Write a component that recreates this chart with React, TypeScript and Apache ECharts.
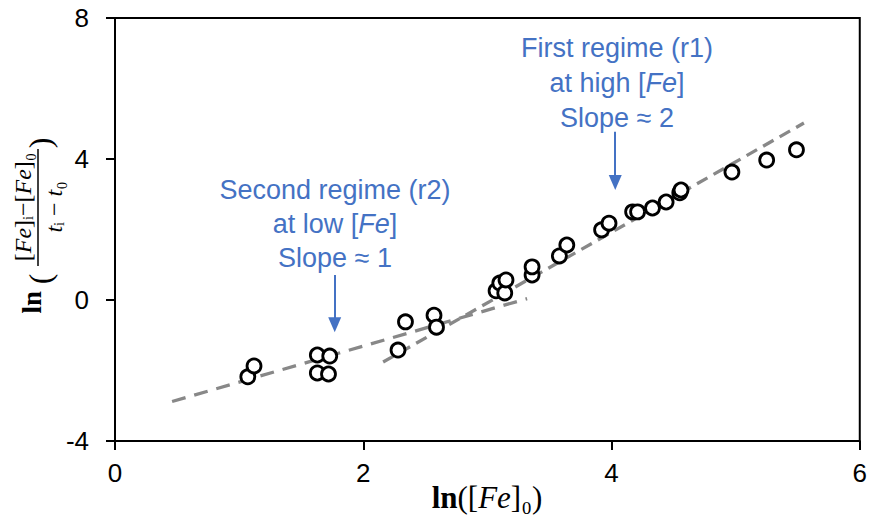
import React, { useEffect, useRef } from "react";
import * as echarts from "echarts";

// ---- data ----
const lnFe0 = [1.07, 1.12, 1.63, 1.73, 1.63, 1.72, 2.28, 2.34, 2.57, 2.59, 3.07, 3.1, 3.14, 3.15, 3.36, 3.36, 3.58, 3.64, 3.92, 3.98, 4.17, 4.21, 4.33, 4.44, 4.55, 4.56, 4.97, 5.25, 5.49];
const lnRate = [-2.18, -1.87, -1.56, -1.59, -2.07, -2.1, -1.42, -0.62, -0.43, -0.77, 0.26, 0.48, 0.2, 0.57, 0.71, 0.94, 1.25, 1.56, 1.99, 2.18, 2.5, 2.5, 2.61, 2.78, 3.04, 3.12, 3.63, 3.97, 4.26];

const fitR2X = [0.46, 3.32];
const fitR2Y = [-2.88, 0.04];
const fitR1X = [2.16, 5.55];
const fitR1Y = [-1.76, 5.02];

const arrowR1X = [4.03, 4.03];
const arrowR1Y = [4.77, 3.33];
const arrowR2X = [1.77, 1.77];
const arrowR2Y = [0.71, -0.7];

const xTicks = { min: 0, max: 6, interval: 2 };
const yTicks = { min: -4, max: 8, interval: 4 };

const annR1 = ["First regime (r1)", "at high [", "Fe", "]", "Slope ≈ 2"];
const annR2 = ["Second regime (r2)", "at low [", "Fe", "]", "Slope ≈ 1"];

const BLUE = "#4472C4";
const SANS = '"Liberation Sans", Arial, sans-serif';
const SERIF = '"Liberation Serif", "DejaVu Serif", serif';

function annotation(lines: string[], cx: number, y0: number, gap: number) {
  const base = { fill: BLUE, fontSize: 27, fontFamily: SANS };
  return [
    { type: "text", x: cx, y: y0, style: { ...base, text: lines[0], align: "center", verticalAlign: "middle" } },
    {
      type: "text",
      x: cx,
      y: y0 + gap,
      style: {
        ...base,
        text: `{n|${lines[1]}}{i|${lines[2]}}{n|${lines[3]}}`,
        align: "center",
        verticalAlign: "middle",
        rich: {
          n: { ...base },
          i: { ...base, fontStyle: "italic" },
        },
      },
    },
    { type: "text", x: cx, y: y0 + 2 * gap, style: { ...base, text: lines[4], align: "center", verticalAlign: "middle" } },
  ];
}

export default function App() {
  const ref = useRef<HTMLDivElement>(null);
  useEffect(() => {
    if (!ref.current) return;
    const chart = echarts.init(ref.current, null, { renderer: "svg" });
    const pts = lnFe0.map((x, i) => [x, lnRate[i]]);
    const serifN = { fontFamily: SERIF, fill: "#000" };
    const frac = { ...serifN, fontSize: 24 };
    chart.setOption({
      animation: false,
      backgroundColor: "#fff",
      grid: {
        left: 115,
        right: 9,
        top: 18,
        bottom: 74,
        show: true,
        borderColor: "#000",
        borderWidth: 2,
      },
      xAxis: {
        type: "value",
        min: xTicks.min,
        max: xTicks.max,
        interval: xTicks.interval,
        splitLine: { show: false },
        axisLine: { show: true, onZero: false, lineStyle: { color: "#000", width: 2 } },
        axisTick: { show: true, inside: false, length: 9, lineStyle: { color: "#000", width: 2 } },
        axisLabel: { color: "#000", fontSize: 26, fontFamily: SANS, margin: 19 },
      },
      yAxis: {
        type: "value",
        min: yTicks.min,
        max: yTicks.max,
        interval: yTicks.interval,
        splitLine: { show: false },
        axisLine: { show: true, onZero: false, lineStyle: { color: "#000", width: 2 } },
        axisTick: { show: true, inside: false, length: 9, lineStyle: { color: "#000", width: 2 } },
        axisLabel: { color: "#000", fontSize: 26, fontFamily: SANS, margin: 26 },
      },
      series: [
        {
          type: "line",
          data: fitR2X.map((x, i) => [x, fitR2Y[i]]),
          symbol: "none",
          silent: true,
          lineStyle: { color: "#888", width: 3.3, type: [14, 9] },
          z: 2,
        },
        {
          type: "line",
          data: fitR1X.map((x, i) => [x, fitR1Y[i]]),
          symbol: "none",
          silent: true,
          lineStyle: { color: "#888", width: 3.3, type: [12, 7] },
          z: 2,
        },
        {
          type: "scatter",
          data: pts,
          symbol: "circle",
          symbolSize: 14,
          itemStyle: { color: "#fff", borderColor: "#000", borderWidth: 2.8, opacity: 1 },
          z: 3,
          markLine: {
            silent: true,
            symbol: ["none", "triangle"],
            symbolSize: [13, 15],
            symbolRotate: 180,
            label: { show: false },
            lineStyle: { color: BLUE, width: 2, type: "solid" },
            itemStyle: { color: BLUE },
            data: [
              [{ coord: [arrowR1X[0], arrowR1Y[0]] }, { coord: [arrowR1X[1], arrowR1Y[1]] }],
              [{ coord: [arrowR2X[0], arrowR2Y[0]] }, { coord: [arrowR2X[1], arrowR2Y[1]] }],
            ],
          },
        },
      ],
      graphic: [
        ...annotation(annR1, 617, 48, 35),
        ...annotation(annR2, 335, 190, 34),
        {
          type: "text",
          x: 487,
          y: 497,
          style: {
            ...serifN,
            fontSize: 31,
            text: "{b|ln}{n|([}{i|Fe}{n|]₀)}",
            align: "center",
            verticalAlign: "middle",
            rich: {
              b: { ...serifN, fontSize: 31, fontWeight: "bold" },
              n: { ...serifN, fontSize: 31 },
              i: { ...serifN, fontSize: 31, fontStyle: "italic" },
            },
          },
        },
        {
          type: "group",
          x: 38,
          y: 229,
          rotation: Math.PI / 2,
          children: [
            { type: "text", x: -62, y: -6, style: { text: "ln", fontFamily: SERIF, fontSize: 27, fontWeight: "bold", fill: "#000", align: "right", verticalAlign: "middle" } },
            { type: "text", x: -50, y: 2, style: { text: "(", fontFamily: SERIF, fontSize: 32, fill: "#000", align: "center", verticalAlign: "middle" } },
            {
              type: "text",
              x: 22,
              y: -15,
              style: {
                ...frac,
                text: "{n|[}{i|Fe}{n|]ᵢ−[}{i|Fe}{n|]₀}",
                align: "center",
                verticalAlign: "middle",
                rich: {
                  n: { ...frac },
                  i: { ...frac, fontStyle: "italic" },
                },
              },
            },
            { type: "line", shape: { x1: -37, y1: 0, x2: 80, y2: 0 }, style: { stroke: "#000", lineWidth: 1.5 } },
            {
              type: "text",
              x: 22,
              y: 16,
              style: {
                ...frac,
                text: "{i|t}{n|ᵢ − }{i|t}{n|₀}",
                align: "center",
                verticalAlign: "middle",
                rich: {
                  n: { ...frac },
                  i: { ...frac, fontStyle: "italic" },
                },
              },
            },
            { type: "text", x: 86, y: 2, style: { text: ")", fontFamily: SERIF, fontSize: 32, fill: "#000", align: "center", verticalAlign: "middle" } },
          ],
        },
      ],
    });
    return () => chart.dispose();
  }, []);
  return <div ref={ref} style={{ position: "fixed", left: 0, top: 0, width: 870, height: 515 }} />;
}
